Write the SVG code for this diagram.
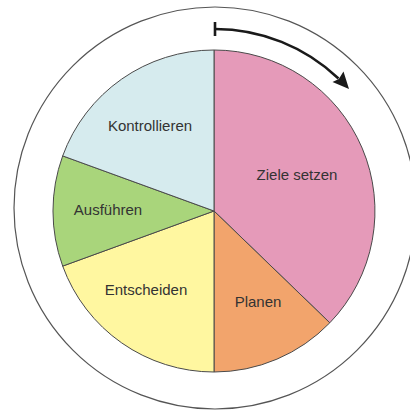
<svg xmlns="http://www.w3.org/2000/svg" width="410" height="410" viewBox="0 0 410 410">
<style>
.slice{stroke:#4a4a4a;stroke-width:1;stroke-linejoin:round}
.lbl{font-family:"Liberation Sans","DejaVu Sans",sans-serif;font-size:15px;fill:#333;text-anchor:middle}
.arr{fill:none;stroke:#1a1a1a;stroke-width:2.6}
</style>
<rect width="410" height="410" fill="#fff"/>
<circle cx="215" cy="208" r="201" fill="none" stroke="#555" stroke-width="1.2"/>
<g id="ziele">
<path class="slice" fill="#e59ab9" d="M214,211 L214,50 A161,161 0 0 1 329.8,322.8 Z"/>
<text class="lbl" x="297" y="180">Ziele setzen</text>
</g>
<g id="planen">
<path class="slice" fill="#f2a46c" d="M214,211 L329.8,322.8 A161,161 0 0 1 214,372 Z"/>
<text class="lbl" x="258" y="307">Planen</text>
</g>
<g id="entscheiden">
<path class="slice" fill="#fff7a0" d="M214,211 L214,372 A161,161 0 0 1 62.7,266.1 Z"/>
<text class="lbl" x="146" y="295">Entscheiden</text>
</g>
<g id="ausfuehren">
<path class="slice" fill="#a9d57b" d="M214,211 L62.7,266.1 A161,161 0 0 1 62.7,155.9 Z"/>
<text class="lbl" x="108" y="215">Ausführen</text>
</g>
<g id="kontrollieren">
<path class="slice" fill="#d6ebee" d="M214,211 L62.7,155.9 A161,161 0 0 1 214,50 Z"/>
<text class="lbl" x="150" y="131">Kontrollieren</text>
</g>
<g id="connectors">
<line class="arr" x1="215" y1="22" x2="215" y2="36"/>
<path class="arr" d="M215,29 A179,179 0 0 1 338.5,78.5"/>
<polygon fill="#1a1a1a" points="349,89 343.5,71.5 338.8,79 332.5,82"/>
</g>
</svg>
